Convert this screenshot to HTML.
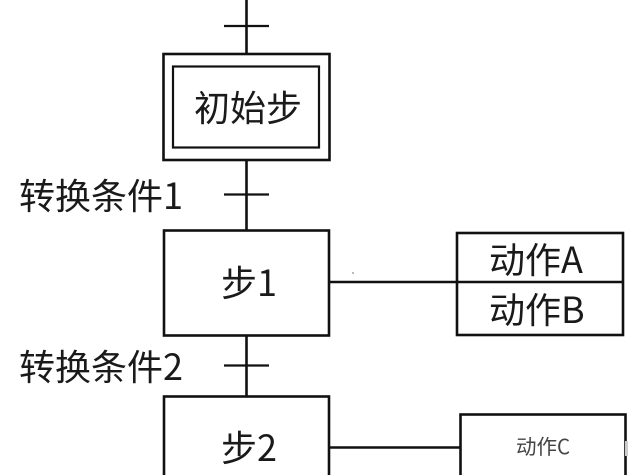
<!DOCTYPE html>
<html lang="zh">
<head>
<meta charset="utf-8">
<style>
html,body{margin:0;padding:0;background:#fff;width:640px;height:475px;overflow:hidden}
svg{display:block;filter:blur(.35px)}
text{font-family:"Noto Sans CJK SC","Liberation Sans",sans-serif;fill:#1a1a1a}
</style>
</head>
<body>
<svg width="640" height="475" viewBox="0 0 640 475" xmlns="http://www.w3.org/2000/svg">
<rect width="640" height="475" fill="#fff"/>
<g fill="none" stroke="#111" stroke-width="2.6">
  <path d="M246.5 0V54M246.5 160V230M246.5 335V396"/>
  <path d="M224 26H269M224 194.500H269M224 365.500H269" stroke-width="2.2"/>
  <rect x="163.500" y="54" width="166" height="106"/>
  <rect x="173" y="66.500" width="146" height="81" stroke-width="2.2"/>
  <rect x="164" y="230.500" width="165" height="105"/>
  <rect x="164" y="396.500" width="165" height="100"/>
  <rect x="457" y="233" width="166" height="102"/>
  <path d="M330 282H623M330 447.500H460"/>
  <rect x="460.500" y="414.500" width="165" height="80"/>
</g>
<rect x="625" y="441" width="3" height="15" fill="#ccc"/>
<rect x="352" y="272" width="2" height="2" fill="#bbb"/>
<g>
  <text x="194" y="121" font-size="36">初始步</text>
  <text x="19" y="209" font-size="36">转换条件1</text>
  <text x="221" y="296" font-size="36">步1</text>
  <text x="19" y="380" font-size="36">转换条件2</text>
  <text x="221" y="461" font-size="36">步2</text>
  <text x="489" y="273" font-size="36">动作A</text>
  <text x="489" y="323" font-size="36">动作B</text>
  <text x="516" y="454" font-size="20.500" style="fill:#444">动作C</text>
</g>
</svg>
</body>
</html>
